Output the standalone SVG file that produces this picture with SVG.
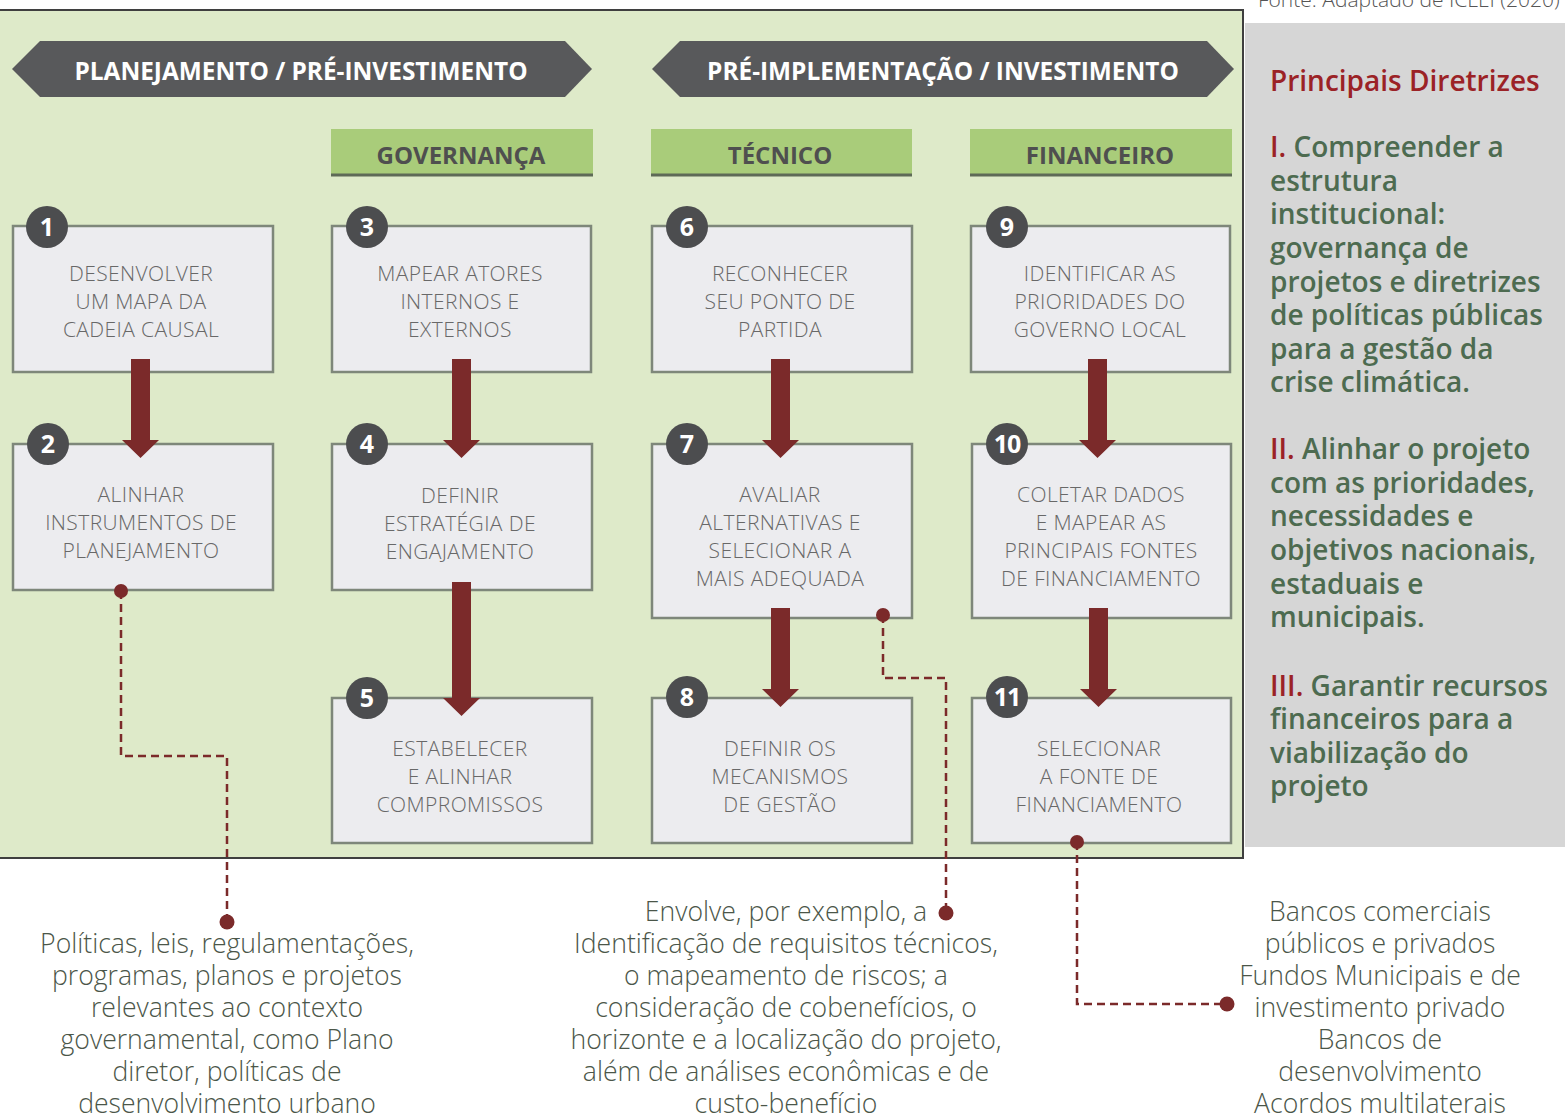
<svg xmlns="http://www.w3.org/2000/svg" width="1565" height="1117" viewBox="0 0 1565 1117">
<style>
.bg{fill:#ffffff}
.panel{fill:#deeac9;stroke:#3f3f3f;stroke-width:2}
.side{fill:#d6d6d6}
.banner{fill:#58595b}
.bantxt{font-family:"Open Sans","Noto Sans",sans-serif;font-weight:700;font-size:24.4px;fill:#ffffff;text-anchor:middle}
.tab{fill:#a9cc7a}
.tabline{stroke:#5e6a57;stroke-width:3}
.tabtxt{font-family:"Open Sans","Noto Sans",sans-serif;font-weight:700;font-size:24px;fill:#4f4f4f;text-anchor:middle}
.box{fill:#ececef;stroke:#7e877a;stroke-width:2.5}
.btxt{font-family:"Open Sans","Noto Sans",sans-serif;font-weight:300;font-size:21px;letter-spacing:0.4px;fill:#686868;text-anchor:middle}
.num{fill:#4c4d4f}
.ntxt{font-family:"Open Sans","Noto Sans",sans-serif;font-weight:700;font-size:25px;fill:#ffffff;text-anchor:middle}
.arrow{fill:#7b2a2a}
.dash{fill:none;stroke:#7b2a2a;stroke-width:2.5;stroke-dasharray:8 5}
.dot{fill:#7b2a2a}
.note{font-family:"Open Sans","Noto Sans",sans-serif;font-weight:300;font-size:26.6px;fill:#4b5649;text-anchor:middle}
.rtitle{font-family:"Open Sans","Noto Sans",sans-serif;font-weight:600;font-size:28px;fill:#9b2226}
.rtxt{font-family:"Open Sans","Noto Sans",sans-serif;font-weight:600;font-size:28px;fill:#4d6b50}
.red{fill:#9b2226}
.src{font-family:"Open Sans","Noto Sans",sans-serif;font-weight:300;font-size:21px;fill:#555555}
</style>
<rect class="bg" x="0" y="0" width="1565" height="1117"/>
<text class="src" x="1258" y="7">Fonte: Adaptado de ICLEI (2020)</text>
<rect class="panel" x="-2" y="10" width="1245" height="848"/>
<rect class="side" x="1245" y="23" width="320" height="824"/>

<g id="banner-planejamento">
<polygon class="banner" points="12,69 40,41 565,41 592,69 565,97 40,97"/>
<text class="bantxt" x="301" y="80">PLANEJAMENTO / PRÉ-INVESTIMENTO</text>
</g>
<g id="banner-preimplementacao">
<polygon class="banner" points="652,69 680,41 1207,41 1234,69 1207,97 680,97"/>
<text class="bantxt" x="943" y="80">PRÉ-IMPLEMENTAÇÃO / INVESTIMENTO</text>
</g>

<g id="tab-governanca">
<rect class="tab" x="331" y="129" width="262" height="46"/>
<line class="tabline" x1="331" y1="175" x2="593" y2="175"/>
<text class="tabtxt" x="461" y="164">GOVERNANÇA</text>
</g>
<g id="tab-tecnico">
<rect class="tab" x="651" y="129" width="261" height="46"/>
<line class="tabline" x1="651" y1="175" x2="912" y2="175"/>
<text class="tabtxt" x="780" y="164">TÉCNICO</text>
</g>
<g id="tab-financeiro">
<rect class="tab" x="970" y="129" width="262" height="46"/>
<line class="tabline" x1="970" y1="175" x2="1232" y2="175"/>
<text class="tabtxt" x="1100" y="164">FINANCEIRO</text>
</g>

<g id="node1">
<rect class="box" x="13" y="226" width="260" height="146"/>
<text class="btxt" x="141" y="281">DESENVOLVER</text>
<text class="btxt" x="141" y="309">UM MAPA DA</text>
<text class="btxt" x="141" y="337">CADEIA CAUSAL</text>
<circle class="num" cx="47" cy="227" r="21"/>
<text class="ntxt" x="47" y="236">1</text>
</g>
<g id="node2">
<rect class="box" x="13" y="444" width="260" height="146"/>
<text class="btxt" x="141" y="502">ALINHAR</text>
<text class="btxt" x="141" y="530">INSTRUMENTOS DE</text>
<text class="btxt" x="141" y="558">PLANEJAMENTO</text>
<circle class="num" cx="48" cy="444" r="21"/>
<text class="ntxt" x="48" y="453">2</text>
</g>
<g id="node3">
<rect class="box" x="332" y="226" width="259" height="146"/>
<text class="btxt" x="460" y="281">MAPEAR ATORES</text>
<text class="btxt" x="460" y="309">INTERNOS E</text>
<text class="btxt" x="460" y="337">EXTERNOS</text>
<circle class="num" cx="367" cy="227" r="21"/>
<text class="ntxt" x="367" y="236">3</text>
</g>
<g id="node4">
<rect class="box" x="332" y="444" width="260" height="146"/>
<text class="btxt" x="460" y="503">DEFINIR</text>
<text class="btxt" x="460" y="531">ESTRATÉGIA DE</text>
<text class="btxt" x="460" y="559">ENGAJAMENTO</text>
<circle class="num" cx="367" cy="444" r="21"/>
<text class="ntxt" x="367" y="453">4</text>
</g>
<g id="node5">
<rect class="box" x="332" y="698" width="260" height="145"/>
<text class="btxt" x="460" y="756">ESTABELECER</text>
<text class="btxt" x="460" y="784">E ALINHAR</text>
<text class="btxt" x="460" y="812">COMPROMISSOS</text>
<circle class="num" cx="367" cy="698" r="21"/>
<text class="ntxt" x="367" y="707">5</text>
</g>
<g id="node6">
<rect class="box" x="652" y="226" width="260" height="146"/>
<text class="btxt" x="780" y="281">RECONHECER</text>
<text class="btxt" x="780" y="309">SEU PONTO DE</text>
<text class="btxt" x="780" y="337">PARTIDA</text>
<circle class="num" cx="687" cy="227" r="21"/>
<text class="ntxt" x="687" y="236">6</text>
</g>
<g id="node7">
<rect class="box" x="652" y="444" width="260" height="174"/>
<text class="btxt" x="780" y="502">AVALIAR</text>
<text class="btxt" x="780" y="530">ALTERNATIVAS E</text>
<text class="btxt" x="780" y="558">SELECIONAR A</text>
<text class="btxt" x="780" y="586">MAIS ADEQUADA</text>
<circle class="num" cx="687" cy="444" r="21"/>
<text class="ntxt" x="687" y="453">7</text>
</g>
<g id="node8">
<rect class="box" x="652" y="698" width="260" height="145"/>
<text class="btxt" x="780" y="756">DEFINIR OS</text>
<text class="btxt" x="780" y="784">MECANISMOS</text>
<text class="btxt" x="780" y="812">DE GESTÃO</text>
<circle class="num" cx="687" cy="697" r="21"/>
<text class="ntxt" x="687" y="706">8</text>
</g>
<g id="node9">
<rect class="box" x="971" y="226" width="259" height="146"/>
<text class="btxt" x="1100" y="281">IDENTIFICAR AS</text>
<text class="btxt" x="1100" y="309">PRIORIDADES DO</text>
<text class="btxt" x="1100" y="337">GOVERNO LOCAL</text>
<circle class="num" cx="1007" cy="227" r="21"/>
<text class="ntxt" x="1007" y="236">9</text>
</g>
<g id="node10">
<rect class="box" x="972" y="444" width="259" height="174"/>
<text class="btxt" x="1101" y="502">COLETAR DADOS</text>
<text class="btxt" x="1101" y="530">E MAPEAR AS</text>
<text class="btxt" x="1101" y="558">PRINCIPAIS FONTES</text>
<text class="btxt" x="1101" y="586">DE FINANCIAMENTO</text>
<circle class="num" cx="1007" cy="444" r="21"/>
<text class="ntxt" x="1007" y="453" letter-spacing="-1">10</text>
</g>
<g id="node11">
<rect class="box" x="972" y="698" width="259" height="145"/>
<text class="btxt" x="1099" y="756">SELECIONAR</text>
<text class="btxt" x="1099" y="784">A FONTE DE</text>
<text class="btxt" x="1099" y="812">FINANCIAMENTO</text>
<circle class="num" cx="1007" cy="697" r="21"/>
<text class="ntxt" x="1007" y="706" letter-spacing="-1">11</text>
</g>

<g id="connectors">
<polygon class="arrow" points="131,359 150,359 150,440 159,440 140.5,458 122,440 131,440"/>
<polygon class="arrow" points="452,359 471,359 471,440 480,440 461.5,458 443,440 452,440"/>
<polygon class="arrow" points="452,582 471,582 471,698 480,698 461.5,716 443,698 452,698"/>
<polygon class="arrow" points="771,359 790,359 790,440 799,440 780.5,458 762,440 771,440"/>
<polygon class="arrow" points="771,608 790,608 790,689 799,689 780.5,707 762,689 771,689"/>
<polygon class="arrow" points="1088,359 1107,359 1107,440 1116,440 1097.5,458 1079,440 1088,440"/>
<polygon class="arrow" points="1089,608 1108,608 1108,689 1117,689 1098.5,707 1080,689 1089,689"/>
<polyline class="dash" points="121,591 121,756 227,756 227,922"/>
<circle class="dot" cx="121" cy="591" r="7"/>
<circle class="dot" cx="227" cy="922" r="7.5"/>
<polyline class="dash" points="883,615 883,678 946,678 946,913"/>
<circle class="dot" cx="883" cy="615" r="7"/>
<circle class="dot" cx="946" cy="913" r="7.5"/>
<polyline class="dash" points="1077,842 1077,1004 1227,1004"/>
<circle class="dot" cx="1077" cy="842" r="7"/>
<circle class="dot" cx="1227" cy="1004" r="7.5"/>
</g>

<g id="note-left">
<text class="note" x="227" y="953">Políticas, leis, regulamentações,</text>
<text class="note" x="227" y="985">programas, planos e projetos</text>
<text class="note" x="227" y="1017">relevantes ao contexto</text>
<text class="note" x="227" y="1049">governamental, como Plano</text>
<text class="note" x="227" y="1081">diretor, políticas de</text>
<text class="note" x="227" y="1113">desenvolvimento urbano</text>
</g>
<g id="note-middle">
<text class="note" x="786" y="921">Envolve, por exemplo, a</text>
<text class="note" x="786" y="953">Identificação de requisitos técnicos,</text>
<text class="note" x="786" y="985">o mapeamento de riscos; a</text>
<text class="note" x="786" y="1017">consideração de cobenefícios, o</text>
<text class="note" x="786" y="1049">horizonte e a localização do projeto,</text>
<text class="note" x="786" y="1081">além de análises econômicas e de</text>
<text class="note" x="786" y="1113">custo-benefício</text>
</g>
<g id="note-right">
<text class="note" x="1380" y="921">Bancos comerciais</text>
<text class="note" x="1380" y="953">públicos e privados</text>
<text class="note" x="1380" y="985">Fundos Municipais e de</text>
<text class="note" x="1380" y="1017">investimento privado</text>
<text class="note" x="1380" y="1049">Bancos de</text>
<text class="note" x="1380" y="1081">desenvolvimento</text>
<text class="note" x="1380" y="1113">Acordos multilaterais</text>
</g>

<g id="diretrizes">
<text class="rtitle" x="1270" y="91">Principais Diretrizes</text>
<text class="rtxt" x="1270" y="157"><tspan class="red">I.</tspan> Compreender a</text>
<text class="rtxt" x="1270" y="191">estrutura</text>
<text class="rtxt" x="1270" y="224">institucional:</text>
<text class="rtxt" x="1270" y="258">governança de</text>
<text class="rtxt" x="1270" y="292">projetos e diretrizes</text>
<text class="rtxt" x="1270" y="325">de políticas públicas</text>
<text class="rtxt" x="1270" y="359">para a gestão da</text>
<text class="rtxt" x="1270" y="392">crise climática.</text>
<text class="rtxt" x="1270" y="459"><tspan class="red">II.</tspan> Alinhar o projeto</text>
<text class="rtxt" x="1270" y="493">com as prioridades,</text>
<text class="rtxt" x="1270" y="526">necessidades e</text>
<text class="rtxt" x="1270" y="560">objetivos nacionais,</text>
<text class="rtxt" x="1270" y="594">estaduais e</text>
<text class="rtxt" x="1270" y="627">municipais.</text>
<text class="rtxt" x="1270" y="696"><tspan class="red">III.</tspan> Garantir recursos</text>
<text class="rtxt" x="1270" y="729">financeiros para a</text>
<text class="rtxt" x="1270" y="763">viabilização do</text>
<text class="rtxt" x="1270" y="796">projeto</text>
</g>
</svg>
